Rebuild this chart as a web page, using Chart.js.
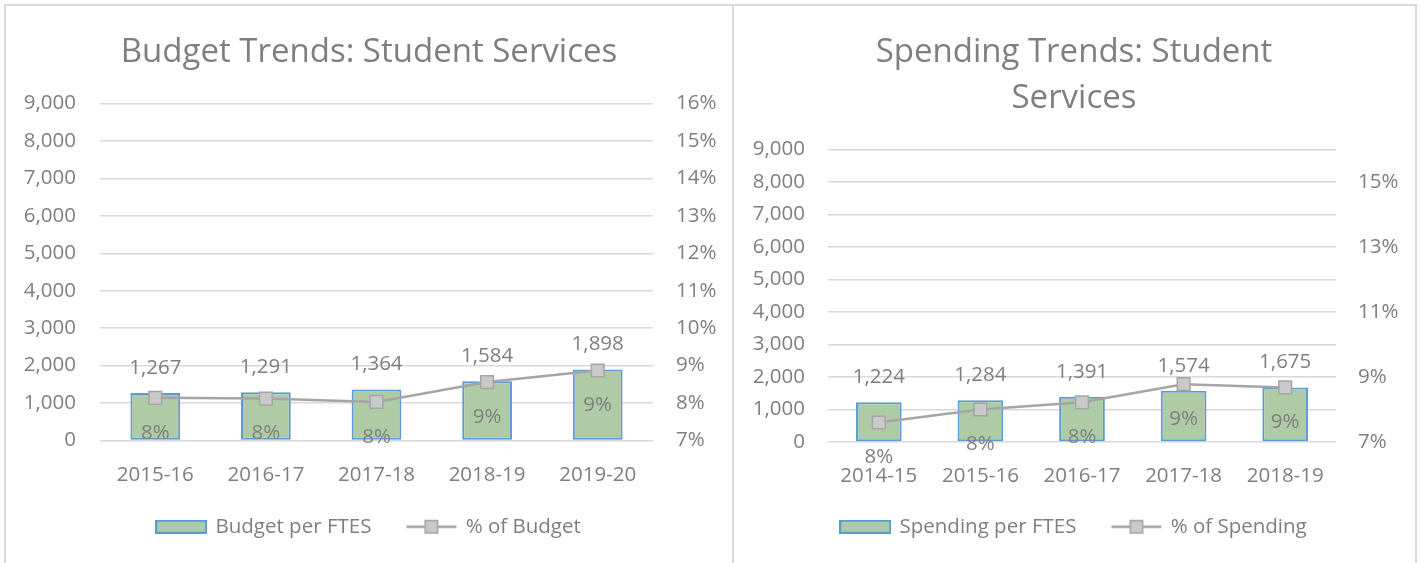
<!DOCTYPE html>
<html>
<head>
<meta charset="utf-8">
<script src="https://cdn.jsdelivr.net/npm/chart.js@4/dist/chart.umd.min.js"></script>
<style>
  html, body { margin: 0; padding: 0; background: #fff; width: 1420px; height: 563px; overflow: hidden; }
  .frame { position: absolute; left: 4px; top: 4px; width: 1413px; height: 600px; box-sizing: border-box; border: 2px solid #d9d9d9; }
  .divider { position: absolute; left: 732px; top: 4px; width: 2px; height: 600px; background: #d9d9d9; }
  .box { position: absolute; top: 6px; height: 557px; }
  #leftBox { left: 6px; width: 726px; }
  #rightBox { left: 734px; width: 680px; }
</style>
</head>
<body>
<div class="frame"></div>
<div class="divider"></div>
<div class="box" id="leftBox"><canvas id="budget"></canvas></div>
<div class="box" id="rightBox"><canvas id="spending"></canvas></div>
<script>
// budget chart
const budgetYears = ["2015-16", "2016-17", "2017-18", "2018-19", "2019-20"];
const budgetPerFtes = [1267, 1291, 1364, 1584, 1898];
const budgetPct = [8.14, 8.12, 8.03, 8.56, 8.87];

// spending chart
const spendingYears = ["2014-15", "2015-16", "2016-17", "2017-18", "2018-19"];
const spendingPerFtes = [1224, 1284, 1391, 1574, 1675];
const spendingPct = [7.6, 8.0, 8.22, 8.78, 8.68];

// axis ranges / ticks
const amountMax = 9000;
const amountStep = 1000;
const pctMin = 7;
const pctMax = 16;
const budgetPctTicks = [7, 8, 9, 10, 11, 12, 13, 14, 15, 16];
const spendingPctTicks = [7, 9, 11, 13, 15];

const textColor = "#7f7f7f";
const gridColor = "#d9d9d9";
const barFill = "#aecba6";
const barBorder = "#5b9bd5";
const lineColor = "#a5a5a5";
const markerFill = "#c9c9c9";
const fontSize = 20.5;

Chart.defaults.font.family = "'Open Sans', sans-serif";
Chart.defaults.font.size = fontSize;
Chart.defaults.color = textColor;

function barSwatch() {
  const c = document.createElement("canvas");
  c.width = 52; c.height = 14;
  const g = c.getContext("2d");
  g.fillStyle = barFill;
  g.fillRect(0, 0, 52, 14);
  g.strokeStyle = barBorder;
  g.lineWidth = 2;
  g.strokeRect(1, 1, 50, 12);
  return c;
}

function lineSwatch() {
  const c = document.createElement("canvas");
  c.width = 52; c.height = 16;
  const g = c.getContext("2d");
  g.strokeStyle = lineColor;
  g.lineWidth = 2.5;
  g.beginPath(); g.moveTo(1, 8); g.lineTo(51, 8); g.stroke();
  g.fillStyle = markerFill;
  g.fillRect(19, 1, 14, 14);
  g.lineWidth = 1.5;
  g.strokeRect(19.75, 1.75, 12.5, 12.5);
  return c;
}

const swatches = { bar: barSwatch(), line: lineSwatch() };

// value labels: amounts above bars, rounded % below the markers
const valueLabels = {
  id: "valueLabels",
  afterDatasetsDraw(chart) {
    const ctx = chart.ctx;
    ctx.save();
    ctx.font = fontSize + "px 'Open Sans', sans-serif";
    ctx.fillStyle = textColor;
    ctx.textAlign = "center";
    ctx.textBaseline = "middle";
    chart.data.datasets.forEach((ds, i) => {
      const meta = chart.getDatasetMeta(i);
      meta.data.forEach((el, j) => {
        const v = ds.data[j];
        if (ds.type === "line") {
          ctx.fillText(Math.round(v) + "%", el.x, el.y + 35);
        } else {
          ctx.fillText(v.toLocaleString("en-US"), el.x, el.y - 25);
        }
      });
    });
    ctx.restore();
  }
};

// pull the legend up a little after layout
const legendShift = {
  id: "legendShift",
  afterLayout(chart, args, opts) {
    const l = chart.legend;
    if (l) { l.top += opts.dy; l.bottom += opts.dy; }
  }
};

function makeChart(id, cfg) {
  return new Chart(document.getElementById(id), {
    type: "bar",
    data: {
      labels: cfg.labels,
      datasets: [
        {
          type: "bar",
          label: cfg.barLabel,
          data: cfg.amounts,
          yAxisID: "y",
          order: 2,
          backgroundColor: barFill,
          borderColor: barBorder,
          borderWidth: 2,
          borderSkipped: false,
          barPercentage: 0.45,
          categoryPercentage: 1
        },
        {
          type: "line",
          label: cfg.lineLabel,
          data: cfg.pct,
          yAxisID: "y1",
          order: 1,
          borderColor: lineColor,
          borderWidth: 2.5,
          tension: 0,
          pointStyle: "rect",
          pointRadius: 9,
          pointBackgroundColor: markerFill,
          pointBorderColor: lineColor,
          pointBorderWidth: 1.5
        }
      ]
    },
    options: {
      responsive: true,
      maintainAspectRatio: false,
      animation: false,
      events: [],
      layout: { padding: { left: 0, right: 0, top: 0, bottom: 6 } },
      scales: {
        x: {
          grid: { display: false },
          border: { display: false },
          ticks: { padding: 14, maxRotation: 0 },
          afterFit: s => { s.height = cfg.xHeight; }
        },
        y: {
          position: "left",
          min: 0,
          max: amountMax,
          ticks: { stepSize: amountStep, padding: cfg.yPad },
          grid: { color: gridColor, lineWidth: 1.5, drawTicks: false },
          border: { display: false },
          afterFit: s => { s.width = 94; }
        },
        y1: {
          position: "right",
          min: pctMin,
          max: pctMax,
          grid: { display: false, drawTicks: false },
          border: { display: false },
          ticks: { padding: cfg.y1Pad, callback: v => v + "%" },
          afterBuildTicks: s => { s.ticks = cfg.pctTicks.map(v => ({ value: v })); },
          afterFit: s => { s.width = cfg.y1Width; }
        }
      },
      plugins: {
        title: {
          display: true,
          text: cfg.title,
          color: textColor,
          font: { size: 33, weight: "normal", lineHeight: cfg.titleLH },
          padding: cfg.titlePad
        },
        legend: {
          position: "bottom",
          align: "center",
          labels: {
            usePointStyle: true,
            pointStyleWidth: 48,
            padding: 36,
            color: textColor,
            font: { size: fontSize },
            generateLabels: chart => chart.data.datasets.map((ds, i) => ({
              text: ds.label,
              pointStyle: ds.type === "line" ? swatches.line : swatches.bar,
              fillStyle: "transparent",
              strokeStyle: "transparent",
              lineWidth: 0,
              hidden: false,
              datasetIndex: i,
              fontColor: textColor
            }))
          }
        },
        legendShift: { dy: -10 },
        tooltip: { enabled: false }
      }
    },
    plugins: [valueLabels, legendShift]
  });
}

makeChart("budget", {
  labels: budgetYears,
  amounts: budgetPerFtes,
  pct: budgetPct,
  pctTicks: budgetPctTicks,
  barLabel: "Budget per FTES",
  lineLabel: "% of Budget",
  title: "Budget Trends: Student Services",
  titleLH: 1.2,
  titlePad: { top: 27, bottom: 31 },
  xHeight: 50,
  yPad: 24,
  y1Pad: 23,
  y1Width: 79
});

makeChart("spending", {
  labels: spendingYears,
  amounts: spendingPerFtes,
  pct: spendingPct,
  pctTicks: spendingPctTicks,
  barLabel: "Spending per FTES",
  lineLabel: "% of Spending",
  title: ["Spending Trends: Student", "Services"],
  titleLH: "46px",
  titlePad: { top: 24, bottom: 27.5 },
  xHeight: 48.5,
  yPad: 23,
  y1Pad: 22,
  y1Width: 78
});
</script>
</body>
</html>
